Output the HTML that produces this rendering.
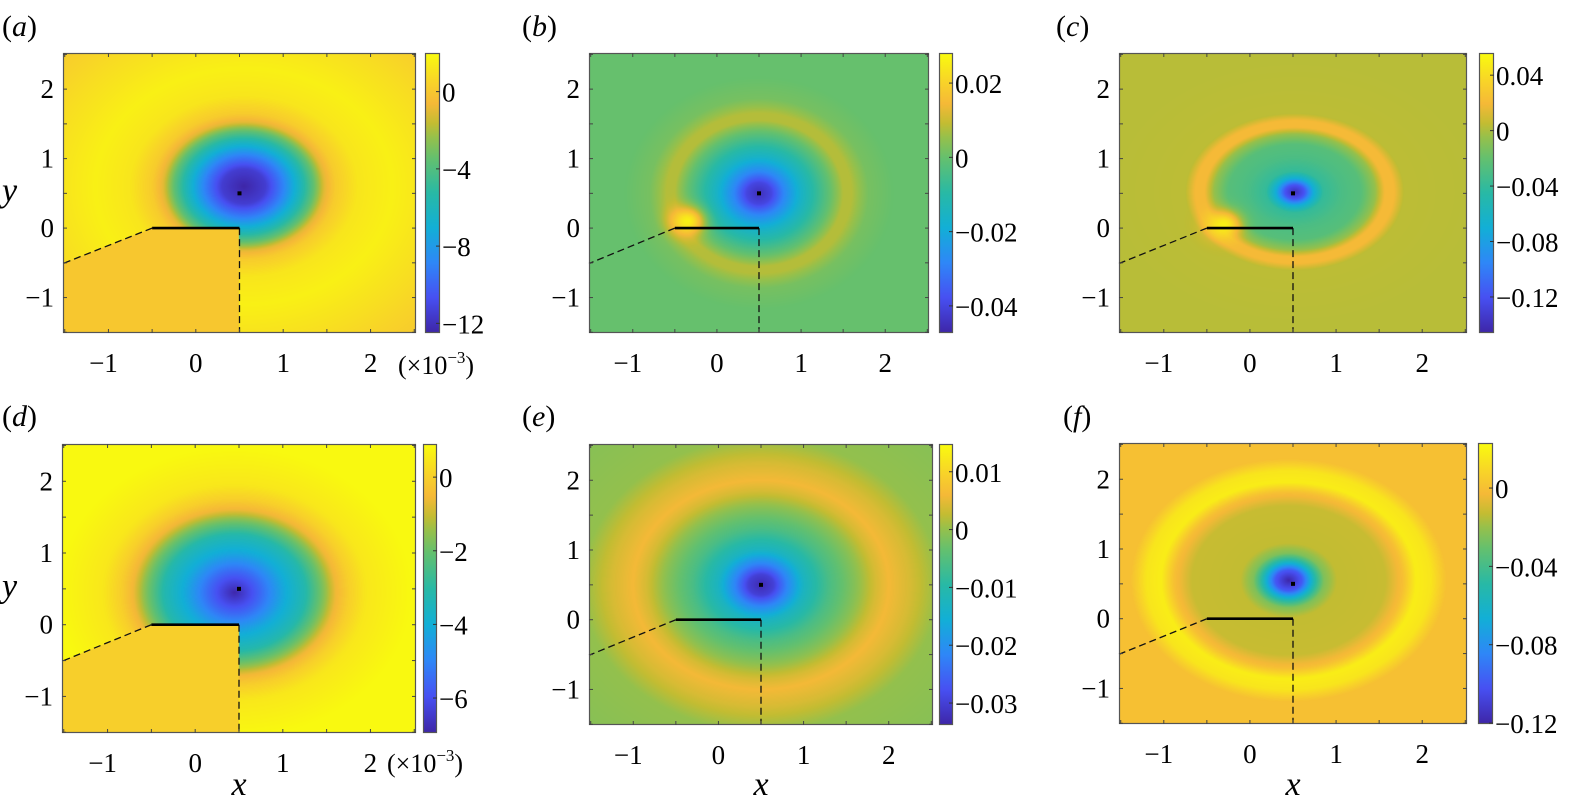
<!DOCTYPE html>
<html><head><meta charset="utf-8">
<style>
html,body{margin:0;padding:0;background:#fff;}
#root{position:relative;width:1576px;height:807px;overflow:hidden;font-family:"Liberation Serif","Times New Roman","DejaVu Serif",serif;}
canvas{position:absolute;}
svg{position:absolute;left:0;top:0;}
svg text{font-family:"Liberation Serif","Times New Roman","DejaVu Serif",serif;}
</style></head>
<body>
<div id="root">
<svg id="ov" width="1576" height="807"></svg>
</div>
<script>
// ---- data: radial profiles around the vortex (distance, value) ----
const aProfileR=[0,0.25,0.45,0.65,0.8,0.92,1.05,1.3,1.7,2.3,3.0];
const aProfileV=[-12.5,-11.5,-9,-6,-3.5,-1,0.2,1.2,1.6,0.9,0.0];
const bProfileR=[0,0.15,0.3,0.5,0.7,0.85,1.0,1.1,1.3,1.6];
const bProfileV=[-0.045,-0.04,-0.028,-0.016,-0.007,0.0,0.008,0.008,0.002,0.0];
const cProfileR=[0,0.1,0.2,0.3,0.5,0.7,0.85,0.95,1.05,1.15,2.0];
const cProfileV=[-0.14,-0.12,-0.07,-0.04,-0.03,-0.025,-0.005,0.02,0.02,0.004,0.003];
const dProfileR=[0,0.3,0.55,0.8,1.0,1.15,1.3,1.5,2.0,3.0];
const dProfileV=[-6.9,-5.5,-4.2,-3.2,-1.8,-0.6,0.0,0.5,0.85,0.85];
const eProfileR=[0,0.15,0.3,0.5,0.8,1.1,1.35,1.5,1.75,2.1,3.0];
const eProfileV=[-0.033,-0.03,-0.022,-0.013,-0.006,-0.001,0.004,0.006,0.004,0.0,-0.001];
const fProfileR=[0,0.15,0.3,0.4,0.55,1.1,1.3,1.45,1.62,1.8,2.2];
const fProfileV=[-0.12,-0.1,-0.05,-0.025,-0.013,-0.012,0.0,0.018,0.015,0.0,0.0];
// colorbar ticks
const aCbTicks=[0,-4,-8,-12];
const bCbTicks=[0.02,0,-0.02,-0.04];
const cCbTicks=[0.04,0,-0.04,-0.08,-0.12];
const dCbTicks=[0,-2,-4,-6];
const eCbTicks=[0.01,0,-0.01,-0.02,-0.03];
const fCbTicks=[0,-0.04,-0.08,-0.12];
const axisTicks=[-1,0,1,2];

const panels=[
 {id:'a',box:[63,53,416,333],cb:[425,53,440,333],vmin:-12.5,vmax:2,R:aProfileR,V:aProfileV,c:[0.55,0.6],s:[1,1],wedge:0.0,hot:null,ticks:aCbTicks,dec:0,label:[2,36],ylab:true,xlab:false,exp:[398,374]},
 {id:'b',box:[589,53,929,333],cb:[939,53,953,333],vmin:-0.0473,vmax:0.0281,R:bProfileR,V:bProfileV,c:[0.5,0.5],s:[1.0,1.05],wedge:null,hot:[-0.35,0.1,0.2,0.026],ticks:bCbTicks,dec:2,label:[522,36],ylab:false,xlab:false},
 {id:'c',box:[1119,53,1467,333],cb:[1479,53,1494,333],vmin:-0.146,vmax:0.056,R:cProfileR,V:cProfileV,c:[0.52,0.52],s:[1.1,0.98],wedge:null,hot:[-0.3,0.05,0.2,0.05],ticks:cCbTicks,dec:2,label:[1056,36],ylab:false,xlab:false},
 {id:'d',box:[62,444,416,733],cb:[423,444,437,733],vmin:-6.95,vmax:0.9,R:dProfileR,V:dProfileV,c:[0.45,0.45],s:[1,1],wedge:0.0,hot:null,ticks:dCbTicks,dec:0,label:[2,426],ylab:true,xlab:true,exp:[387,772]},
 {id:'e',box:[589,444,933,725],cb:[939,444,953,725],vmin:-0.0338,vmax:0.0148,R:eProfileR,V:eProfileV,c:[0.5,0.5],s:[1,1],wedge:null,hot:null,ticks:eCbTicks,dec:2,label:[522,426],ylab:false,xlab:true},
 {id:'f',box:[1119,443,1467,724],cb:[1478,443,1493,724],vmin:-0.1205,vmax:0.023,R:fProfileR,V:fProfileV,c:[0.45,0.55],s:[1.02,0.97],wedge:null,hot:null,ticks:fCbTicks,dec:2,label:[1063,426],ylab:false,xlab:true}
];
const XMIN=-1.52,XMAX=2.52,YMIN=-1.51,YMAX=2.52;
const PAR=[[0,62,38,168],[0.125,71,80,242],[0.25,46,135,247],[0.375,18,175,214],[0.5,40,185,165],[0.625,100,192,110],[0.7,150,192,75],[0.75,195,188,50],[0.82,245,185,55],[0.9,248,212,40],[1,249,251,14]];
function parula(t){t=Math.max(0,Math.min(1,t));for(let i=1;i<PAR.length;i++){if(t<=PAR[i][0]){const a=PAR[i-1],b=PAR[i],f=(t-a[0])/(b[0]-a[0]);return [a[1]+f*(b[1]-a[1]),a[2]+f*(b[2]-a[2]),a[3]+f*(b[3]-a[3])];}}return PAR[PAR.length-1].slice(1);}
function interp(R,V,r){if(r<=R[0])return V[0];for(let i=1;i<R.length;i++){if(r<=R[i]){const f=(r-R[i-1])/(R[i]-R[i-1]);return V[i-1]+f*(V[i]-V[i-1]);}}return V[V.length-1];}
const NS='http://www.w3.org/2000/svg';
const ov=document.getElementById('ov');
function el(tag,attrs,parent){const e=document.createElementNS(NS,tag);for(const k in attrs)e.setAttribute(k,attrs[k]);(parent||ov).appendChild(e);return e;}
function fmt(v,dec){if(v===0)return '0';const s=Math.abs(v).toFixed(dec);return (v<0?'\u2212':'')+s;}
const root=document.getElementById('root');
panels.forEach(p=>{
 const [x0,y0,x1,y1]=p.box,W=x1-x0,H=y1-y0;
 const sx=v=>x0+(v-XMIN)/(XMAX-XMIN)*W, sy=v=>y1-(v-YMIN)/(YMAX-YMIN)*H;
 const cv=document.createElement('canvas');cv.width=W;cv.height=H;cv.style.left=x0+'px';cv.style.top=y0+'px';
 
 
 root.insertBefore(cv,ov);
 const ctx=cv.getContext('2d'),img=ctx.createImageData(W,H);
 for(let j=0;j<H;j++)for(let i=0;i<W;i++){
  const x=XMIN+(i+0.5)/W*(XMAX-XMIN), y=YMAX-(j+0.5)/H*(YMAX-YMIN);
  const dx=(x-p.c[0])/p.s[0],dy=(y-p.c[1])/p.s[1];
  let v=interp(p.R,p.V,Math.sqrt(dx*dx+dy*dy));
  if(p.hot){const hx=x-p.hot[0],hy=y-p.hot[1];const w=Math.exp(-(hx*hx+hy*hy)/(p.hot[2]*p.hot[2]));v+=(p.hot[3]-v)*w;}
  if(p.wedge!==null && y<0 && x<0.5 && y<(x+0.5)*0.5) v=p.wedge;
  const c=parula((v-p.vmin)/(p.vmax-p.vmin)),k=(j*W+i)*4;
  img.data[k]=c[0];img.data[k+1]=c[1];img.data[k+2]=c[2];img.data[k+3]=255;
 }
 ctx.putImageData(img,0,0);
 const g=el('g',{});
 
 
 const dl=el('polyline',{points:`${sx(-0.5)},${sy(0)} ${sx(-1.52)},${sy(-0.51)}`,fill:'none',stroke:'#111','stroke-width':1.3,'stroke-dasharray':'7,4'},g);
 
 
 const dv=el('line',{x1:sx(0.5),y1:sy(0),x2:sx(0.5),y2:y1,stroke:'#111','stroke-width':1.3,'stroke-dasharray':'7,4'},g);
 
 
 const pl=el('line',{x1:sx(-0.5),y1:sy(0),x2:sx(0.5),y2:sy(0),stroke:'#000','stroke-width':2.6},g);
 
 
 const dot=el('rect',{x:sx(0.5)-2,y:sy(0.5)-2,width:4,height:4,fill:'#000'},g);
 
 
 const bx=el('rect',{x:x0+0.5,y:y0+0.5,width:W-1,height:H-1,fill:'none',stroke:'#555','stroke-width':1.2},g);
 
 
 for(let t=-1.5;t<=2.5;t+=0.5){
  const X=sx(t),Y=sy(t);
  el('line',{x1:X,y1:y1,x2:X,y2:y1-4,stroke:'#444','stroke-width':1},g);
  el('line',{x1:X,y1:y0,x2:X,y2:y0+4,stroke:'#444','stroke-width':1},g);
  el('line',{x1:x0,y1:Y,x2:x0+4,y2:Y,stroke:'#444','stroke-width':1},g);
  el('line',{x1:x1,y1:Y,x2:x1-4,y2:Y,stroke:'#444','stroke-width':1},g);
 }
 axisTicks.forEach(t=>{
  const tx=el('text',{x:sx(t)-(t<0?5:0),y:y1+39,'text-anchor':'middle','font-size':27,fill:'#000'},g);
  tx.textContent=fmt(t,0);
  
  
  const ty=el('text',{x:x0-9,y:sy(t)+9,'text-anchor':'end','font-size':27,fill:'#000'},g);
  ty.textContent=fmt(t,0);
  
  
 });
 const [c0,cy0,c1,cy1]=p.cb;
 const gid='grad'+p.id;
 const defs=el('defs',{},g);
 const lg=el('linearGradient',{id:gid,x1:0,y1:1,x2:0,y2:0},defs);
 PAR.forEach(s=>el('stop',{offset:s[0],'stop-color':`rgb(${s[1]},${s[2]},${s[3]})`},lg));
 const cbr=el('rect',{x:c0+0.5,y:cy0+0.5,width:c1-c0-1,height:cy1-cy0-1,fill:`url(#${gid})`,stroke:'#555','stroke-width':1.2},g);
 
 
 p.ticks.forEach(t=>{
  const Y=cy1-(t-p.vmin)/(p.vmax-p.vmin)*(cy1-cy0);
  el('line',{x1:c1,y1:Y,x2:c1-4,y2:Y,stroke:'#333','stroke-width':1},g);
  const tl=el('text',{x:c1+2,y:Y+10,'font-size':27,fill:'#000'},g);
  tl.textContent=fmt(t,p.dec);
  
  
 });
 const lab=el('text',{x:p.label[0],y:p.label[1],'font-size':30,fill:'#000'},g);
 lab.innerHTML='(<tspan font-style="italic">'+p.id+'</tspan>)';
 
 
 if(p.ylab){const yl=el('text',{x:2,y:sy(0.5)+8,'font-size':34,'font-style':'italic',fill:'#000'},g);yl.textContent='y';
  
  }
 if(p.xlab){const xl=el('text',{x:sx(0.5),y:795,'text-anchor':'middle','font-size':34,'font-style':'italic',fill:'#000'},g);xl.textContent='x';
  
  }
 if(p.exp){const ex=el('text',{x:p.exp[0],y:p.exp[1],'font-size':26,fill:'#000'},g);
  ex.innerHTML='(\u00d710<tspan dy="-11" font-size="17">\u22123</tspan><tspan dy="11">)</tspan>';
  
  }
});
</script>
</body></html>
